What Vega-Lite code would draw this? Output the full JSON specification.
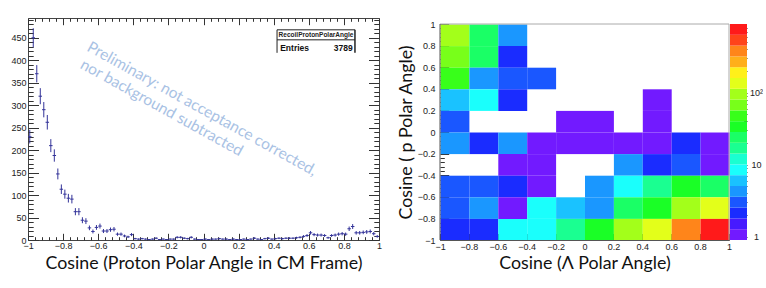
{
  "$schema": "https://vega.github.io/schema/vega-lite/v6.json",
  "padding": {"left": 10, "top": 17, "right": 0, "bottom": 0},
  "background": "white",
  "config": {
    "axis": {"labelFont": "Liberation Sans", "labelFontSize": 9, "labelColor": "#222", "tickColor": "#333", "tickWidth": 1, "grid": false, "minExtent": 0, "maxExtent": 200, "labelOverlap": false, "labelFlush": false, "titleFont": "Lato", "titleFontSize": 17.8, "titleFontWeight": "normal", "titleColor": "#111"}
  },
  "spacing": 14,
  "hconcat": [
    {
      "width": 351, "height": 222,
      "view": {"stroke": "#444", "strokeWidth": 1},
      "data": {"values": [
        {"x":-0.99,"n":230,"e":15.17},{"x":-0.97,"n":450,"e":21.21},{"x":-0.95,"n":370,"e":19.24},{"x":-0.93,"n":320,"e":17.89},{"x":-0.91,"n":290,"e":17.03},{"x":-0.89,"n":262,"e":16.19},{"x":-0.87,"n":210,"e":14.49},{"x":-0.85,"n":188,"e":13.71},{"x":-0.83,"n":147,"e":12.12},{"x":-0.81,"n":113,"e":10.63},
        {"x":-0.79,"n":102,"e":10.1},{"x":-0.77,"n":93,"e":9.64},{"x":-0.75,"n":91,"e":9.54},{"x":-0.73,"n":63,"e":7.94},{"x":-0.71,"n":63,"e":7.94},{"x":-0.69,"n":44,"e":6.63},{"x":-0.67,"n":42,"e":6.48},{"x":-0.65,"n":27,"e":5.2},{"x":-0.63,"n":19,"e":4.36},{"x":-0.61,"n":28,"e":5.29},
        {"x":-0.59,"n":31,"e":5.57},{"x":-0.57,"n":20,"e":4.47},{"x":-0.55,"n":20,"e":4.47},{"x":-0.53,"n":23,"e":4.8},{"x":-0.51,"n":24,"e":4.9},{"x":-0.49,"n":13,"e":3.61},{"x":-0.47,"n":13,"e":3.61},{"x":-0.45,"n":9,"e":3},{"x":-0.43,"n":7,"e":2.65},{"x":-0.41,"n":12,"e":3.46},
        {"x":-0.39,"n":3,"e":1.73},{"x":-0.37,"n":2,"e":1.41},{"x":-0.35,"n":3,"e":1.73},{"x":-0.33,"n":2,"e":1.41},{"x":-0.31,"n":1,"e":1},{"x":-0.29,"n":2,"e":1.41},{"x":-0.27,"n":4,"e":2},{"x":-0.25,"n":1,"e":1},{"x":-0.23,"n":2,"e":1.41},{"x":-0.21,"n":1,"e":1},
        {"x":-0.19,"n":2,"e":1.41},{"x":-0.17,"n":2,"e":1.41},{"x":-0.15,"n":6,"e":2.45},{"x":-0.13,"n":6,"e":2.45},{"x":-0.11,"n":4,"e":2},{"x":-0.09,"n":3,"e":1.73},{"x":-0.07,"n":6,"e":2.45},{"x":-0.05,"n":2,"e":1.41},{"x":-0.03,"n":1,"e":1},{"x":-0.01,"n":1,"e":1},
        {"x":0.01,"n":2,"e":1.41},{"x":0.03,"n":1,"e":1},{"x":0.05,"n":2,"e":1.41},{"x":0.07,"n":2,"e":1.41},{"x":0.09,"n":3,"e":1.73},{"x":0.11,"n":2,"e":1.41},{"x":0.13,"n":2,"e":1.41},{"x":0.15,"n":1,"e":1},{"x":0.17,"n":2,"e":1.41},{"x":0.19,"n":1,"e":1},
        {"x":0.21,"n":1,"e":1},{"x":0.23,"n":2,"e":1.41},{"x":0.25,"n":1,"e":1},{"x":0.27,"n":2,"e":1.41},{"x":0.29,"n":4,"e":2},{"x":0.31,"n":2,"e":1.41},{"x":0.33,"n":1,"e":1},{"x":0.35,"n":3,"e":1.73},{"x":0.37,"n":4,"e":2},{"x":0.39,"n":2,"e":1.41},
        {"x":0.41,"n":3,"e":1.73},{"x":0.43,"n":4,"e":2},{"x":0.45,"n":3,"e":1.73},{"x":0.47,"n":4,"e":2},{"x":0.49,"n":4,"e":2},{"x":0.51,"n":4,"e":2},{"x":0.53,"n":5,"e":2.24},{"x":0.55,"n":6,"e":2.45},{"x":0.57,"n":8,"e":2.83},{"x":0.59,"n":10,"e":3.16},
        {"x":0.61,"n":16,"e":4},{"x":0.63,"n":12,"e":3.46},{"x":0.65,"n":11,"e":3.32},{"x":0.67,"n":11,"e":3.32},{"x":0.69,"n":10,"e":3.16},{"x":0.71,"n":5,"e":2.24},{"x":0.73,"n":10,"e":3.16},{"x":0.75,"n":11,"e":3.32},{"x":0.77,"n":13,"e":3.61},{"x":0.79,"n":14,"e":3.74},
        {"x":0.81,"n":13,"e":3.61},{"x":0.83,"n":25,"e":5},{"x":0.85,"n":30,"e":5.48},{"x":0.87,"n":16,"e":4},{"x":0.89,"n":16,"e":4},{"x":0.91,"n":17,"e":4.12},{"x":0.93,"n":18,"e":4.24},{"x":0.95,"n":19,"e":4.36},{"x":0.97,"n":14,"e":3.74},{"x":0.99,"n":8,"e":2.83}
      ]},
      "layer": [
        {
          "data": {"values": [{}]},
          "mark": {"type": "point", "opacity": 0},
          "encoding": {
            "x": {"datum": 0, "type": "quantitative", "scale": {"domain": [-1, 1], "nice": false, "zero": false},
              "axis": {"orient": "bottom", "values": [-1,-0.8,-0.6,-0.4,-0.2,0,0.2,0.4,0.6,0.8,1], "format": "~g", "ticks": false, "domain": false, "labelPadding": 1, "title": "Cosine (Proton Polar Angle in CM Frame)", "titlePadding": 4.5}},
            "y": {"datum": 0, "type": "quantitative", "scale": {"domain": [0, 494], "nice": false, "zero": false},
              "axis": {"orient": "left", "values": [0,50,100,150,200,250,300,350,400,450], "ticks": false, "domain": false, "labelPadding": 2, "title": null}}
          }
        },
        {
          "data": {"values": [{}]},
          "mark": {"type": "point", "opacity": 0},
          "encoding": {
            "x": {"datum": 0, "type": "quantitative", "scale": {"domain": [-1, 1], "nice": false, "zero": false},
              "axis": {"orient": "bottom", "values": [-1,-0.8,-0.6,-0.4,-0.2,0,0.2,0.4,0.6,0.8,1], "labels": false, "tickSize": -6.7, "domain": false, "title": null}},
            "y": {"datum": 0, "type": "quantitative", "scale": {"domain": [0, 494], "nice": false, "zero": false},
              "axis": {"orient": "left", "values": [0,50,100,150,200,250,300,350,400,450], "labels": false, "tickSize": -10.5, "domain": false, "title": null}}
          }
        },
        {
          "data": {"values": [{}]},
          "mark": {"type": "point", "opacity": 0},
          "encoding": {
            "x": {"datum": 0, "type": "quantitative", "scale": {"domain": [-1, 1], "nice": false, "zero": false},
              "axis": {"orient": "bottom", "values": [-0.96,-0.92,-0.88,-0.84,-0.76,-0.72,-0.68,-0.64,-0.56,-0.52,-0.48,-0.44,-0.36,-0.32,-0.28,-0.24,-0.16,-0.12,-0.08,-0.04,0.04,0.08,0.12,0.16,0.24,0.28,0.32,0.36,0.44,0.48,0.52,0.56,0.64,0.68,0.72,0.76,0.84,0.88,0.92,0.96], "labels": false, "tickSize": -3.3, "domain": false, "title": null}},
            "y": {"datum": 0, "type": "quantitative", "scale": {"domain": [0, 494], "nice": false, "zero": false},
              "axis": {"orient": "left", "values": [10,20,30,40,60,70,80,90,110,120,130,140,160,170,180,190,210,220,230,240,260,270,280,290,310,320,330,340,360,370,380,390,410,420,430,440,460,470,480,490], "labels": false, "tickSize": -5.2, "domain": false, "title": null}}
          }
        },
        {
          "data": {"values": [{}]},
          "mark": {"type": "point", "opacity": 0},
          "encoding": {
            "x": {"datum": 0, "type": "quantitative", "scale": {"domain": [-1, 1], "nice": false, "zero": false},
              "axis": {"orient": "top", "values": [-1,-0.8,-0.6,-0.4,-0.2,0,0.2,0.4,0.6,0.8,1], "labels": false, "tickSize": -6.7, "domain": false, "title": null}},
            "y": {"datum": 0, "type": "quantitative", "scale": {"domain": [0, 494], "nice": false, "zero": false},
              "axis": {"orient": "right", "values": [0,50,100,150,200,250,300,350,400,450], "labels": false, "tickSize": -10.5, "domain": false, "title": null}}
          }
        },
        {
          "data": {"values": [{}]},
          "mark": {"type": "point", "opacity": 0},
          "encoding": {
            "x": {"datum": 0, "type": "quantitative", "scale": {"domain": [-1, 1], "nice": false, "zero": false},
              "axis": {"orient": "top", "values": [-0.96,-0.92,-0.88,-0.84,-0.76,-0.72,-0.68,-0.64,-0.56,-0.52,-0.48,-0.44,-0.36,-0.32,-0.28,-0.24,-0.16,-0.12,-0.08,-0.04,0.04,0.08,0.12,0.16,0.24,0.28,0.32,0.36,0.44,0.48,0.52,0.56,0.64,0.68,0.72,0.76,0.84,0.88,0.92,0.96], "labels": false, "tickSize": -3.3, "domain": false, "title": null}},
            "y": {"datum": 0, "type": "quantitative", "scale": {"domain": [0, 494], "nice": false, "zero": false},
              "axis": {"orient": "right", "values": [10,20,30,40,60,70,80,90,110,120,130,140,160,170,180,190,210,220,230,240,260,270,280,290,310,320,330,340,360,370,380,390,410,420,430,440,460,470,480,490], "labels": false, "tickSize": -5.2, "domain": false, "title": null}}
          }
        },
        {
          "mark": {"type": "errorbar", "color": "#333399", "thickness": 1},
          "encoding": {
            "x": {"field": "x", "type": "quantitative", "scale": {"domain": [-1, 1], "nice": false, "zero": false}, "axis": null},
            "y": {"field": "n", "type": "quantitative", "scale": {"domain": [0, 494], "nice": false, "zero": false}, "axis": null},
            "yError": {"field": "e"}
          }
        },
        {
          "mark": {"type": "tick", "orient": "horizontal", "color": "#333399", "size": 3.5, "thickness": 1, "opacity": 1},
          "encoding": {
            "x": {"field": "x", "type": "quantitative", "scale": {"domain": [-1, 1], "nice": false, "zero": false}, "axis": null},
            "y": {"field": "n", "type": "quantitative", "scale": {"domain": [0, 494], "nice": false, "zero": false}, "axis": null}
          }
        },
        {
          "data": {"values": [{}]},
          "mark": {"type": "text", "text": "Preliminary: not acceptance corrected,", "angle": 29, "font": "Lato", "fontSize": 15.5, "color": "#a9c2e4", "align": "center", "baseline": "middle"},
          "encoding": {
            "x": {"datum": -0.0085, "type": "quantitative", "axis": null},
            "y": {"datum": 292, "type": "quantitative", "axis": null}
          }
        },
        {
          "data": {"values": [{}]},
          "mark": {"type": "text", "text": "nor background subtracted", "angle": 29, "font": "Lato", "fontSize": 15.5, "color": "#a9c2e4", "align": "center", "baseline": "middle"},
          "encoding": {
            "x": {"datum": -0.238, "type": "quantitative", "axis": null},
            "y": {"datum": 294.5, "type": "quantitative", "axis": null}
          }
        },
        {
          "data": {"values": [{}]},
          "mark": {"type": "rect", "fill": "white", "stroke": null},
          "encoding": {
            "x": {"datum": 0.419, "type": "quantitative", "axis": null}, "x2": {"datum": 0.863},
            "y": {"datum": 416.5, "type": "quantitative", "axis": null}, "y2": {"datum": 467.7}
          }
        },
        {
          "data": {"values": [{}]},
          "mark": {"type": "rule", "color": "#222", "strokeWidth": 1},
          "encoding": {
            "x": {"datum": 0.419, "type": "quantitative", "axis": null}, "x2": {"datum": 0.863},
            "y": {"datum": 467.7, "type": "quantitative", "axis": null}
          }
        },
        {
          "data": {"values": [{}]},
          "mark": {"type": "rule", "color": "#222", "strokeWidth": 1},
          "encoding": {
            "x": {"datum": 0.419, "type": "quantitative", "axis": null}, "x2": {"datum": 0.863},
            "y": {"datum": 445.4, "type": "quantitative", "axis": null}
          }
        },
        {
          "data": {"values": [{}]},
          "mark": {"type": "rule", "color": "#222", "strokeWidth": 1},
          "encoding": {
            "x": {"datum": 0.419, "type": "quantitative", "axis": null},
            "y": {"datum": 416.5, "type": "quantitative", "axis": null}, "y2": {"datum": 467.7}
          }
        },
        {
          "data": {"values": [{}]},
          "mark": {"type": "rule", "color": "#222", "strokeWidth": 1.5},
          "encoding": {
            "x": {"datum": 0.863, "type": "quantitative", "axis": null},
            "y": {"datum": 416.5, "type": "quantitative", "axis": null}, "y2": {"datum": 467.7}
          }
        },
        {
          "data": {"values": [{}]},
          "mark": {"type": "text", "text": "RecoilProtonPolarAngle", "font": "Liberation Sans", "fontSize": 6.5, "fontWeight": "bold", "color": "#222", "align": "center", "baseline": "middle"},
          "encoding": {
            "x": {"datum": 0.641, "type": "quantitative", "axis": null},
            "y": {"datum": 456.6, "type": "quantitative", "axis": null}
          }
        },
        {
          "data": {"values": [{}]},
          "mark": {"type": "text", "text": "Entries", "font": "Liberation Sans", "fontSize": 8.5, "fontWeight": "bold", "color": "#111", "align": "left", "baseline": "middle"},
          "encoding": {
            "x": {"datum": 0.437, "type": "quantitative", "axis": null},
            "y": {"datum": 428.3, "type": "quantitative", "axis": null}
          }
        },
        {
          "data": {"values": [{}]},
          "mark": {"type": "text", "text": "3789", "font": "Liberation Sans", "fontSize": 8.5, "fontWeight": "bold", "color": "#111", "align": "right", "baseline": "middle"},
          "encoding": {
            "x": {"datum": 0.85, "type": "quantitative", "axis": null},
            "y": {"datum": 428.3, "type": "quantitative", "axis": null}
          }
        }
      ],
      "resolve": {"axis": {"x": "independent", "y": "independent"}}
    },
    {
      "hconcat": [
        {
          "width": 289, "height": 222,
          "view": {"stroke": null},
          "layer": [
            {
              "data": {"values": [
                {"x":-0.9,"y":0.9,"v":95},{"x":-0.7,"y":0.9,"v":24},{"x":-0.5,"y":0.9,"v":4},
                {"x":-0.9,"y":0.7,"v":67},{"x":-0.7,"y":0.7,"v":22},{"x":-0.5,"y":0.7,"v":2},
                {"x":-0.9,"y":0.5,"v":48},{"x":-0.7,"y":0.5,"v":4},{"x":-0.5,"y":0.5,"v":3},{"x":-0.3,"y":0.5,"v":3},
                {"x":-0.9,"y":0.3,"v":6},{"x":-0.7,"y":0.3,"v":8},{"x":-0.5,"y":0.3,"v":2},{"x":0.5,"y":0.3,"v":1},
                {"x":-0.9,"y":0.1,"v":3},{"x":-0.1,"y":0.1,"v":1},{"x":0.1,"y":0.1,"v":1},{"x":0.5,"y":0.1,"v":1},
                {"x":-0.9,"y":-0.1,"v":4},{"x":-0.7,"y":-0.1,"v":2},{"x":-0.5,"y":-0.1,"v":4},{"x":-0.3,"y":-0.1,"v":1},{"x":-0.1,"y":-0.1,"v":1},{"x":0.1,"y":-0.1,"v":1},{"x":0.3,"y":-0.1,"v":1},{"x":0.5,"y":-0.1,"v":1},{"x":0.7,"y":-0.1,"v":2},{"x":0.9,"y":-0.1,"v":1},
                {"x":-0.5,"y":-0.3,"v":1},{"x":-0.3,"y":-0.3,"v":1},{"x":0.3,"y":-0.3,"v":4},{"x":0.5,"y":-0.3,"v":2},{"x":0.7,"y":-0.3,"v":3},{"x":0.9,"y":-0.3,"v":1},
                {"x":-0.9,"y":-0.5,"v":3},{"x":-0.7,"y":-0.5,"v":3},{"x":-0.5,"y":-0.5,"v":2},{"x":-0.3,"y":-0.5,"v":1},{"x":0.1,"y":-0.5,"v":4},{"x":0.3,"y":-0.5,"v":8},{"x":0.5,"y":-0.5,"v":17},{"x":0.7,"y":-0.5,"v":34},{"x":0.9,"y":-0.5,"v":24},
                {"x":-0.9,"y":-0.7,"v":3},{"x":-0.7,"y":-0.7,"v":4},{"x":-0.5,"y":-0.7,"v":1},{"x":-0.3,"y":-0.7,"v":8},{"x":-0.1,"y":-0.7,"v":6},{"x":0.1,"y":-0.7,"v":4},{"x":0.3,"y":-0.7,"v":22},{"x":0.5,"y":-0.7,"v":34},{"x":0.7,"y":-0.7,"v":95},{"x":0.9,"y":-0.7,"v":135},
                {"x":-0.9,"y":-0.9,"v":2},{"x":-0.7,"y":-0.9,"v":2},{"x":-0.5,"y":-0.9,"v":8},{"x":-0.3,"y":-0.9,"v":8},{"x":-0.1,"y":-0.9,"v":17},{"x":0.1,"y":-0.9,"v":34},{"x":0.3,"y":-0.9,"v":95},{"x":0.5,"y":-0.9,"v":135},{"x":0.7,"y":-0.9,"v":380},{"x":0.9,"y":-0.9,"v":750}
              ]},
              "mark": {"type": "rect", "binSpacing": 0},
              "encoding": {
                "x": {"field": "x", "type": "quantitative", "bin": {"extent": [-1, 1], "step": 0.2}, "scale": {"domain": [-1, 1], "nice": false, "zero": false},
                  "axis": {"orient": "bottom", "values": [-1,-0.8,-0.6,-0.4,-0.2,0,0.2,0.4,0.6,0.8,1], "format": "~g", "ticks": false, "domain": true, "domainColor": "#555", "labelPadding": 2, "title": "Cosine (Λ Polar Angle)", "titlePadding": 3}},
                "y": {"field": "y", "type": "quantitative", "bin": {"extent": [-1, 1], "step": 0.2}, "scale": {"domain": [-1, 1], "range": [222, 6], "nice": false, "zero": false},
                  "axis": {"orient": "left", "values": [-1,-0.8,-0.6,-0.4,-0.2,0,0.2,0.4,0.6,0.8,1], "format": "~g", "ticks": false, "domain": false, "labelPadding": 5, "title": "Cosine ( p Polar Angle)", "titlePadding": 2}},
                "color": {"aggregate": "sum", "field": "v", "type": "quantitative", "legend": null,
                  "scale": {"type": "threshold", "domain": [1.2713,1.7957,2.5365,3.583,5.0611,7.149,10.098,14.264,20.148,28.46,40.202,56.786,80.213,113.3,160.05,226.07,319.33,451.07,637.15],
                    "range": ["#721aff","#471aff","#1a2cff","#1a57ff","#1a97ff","#1ac2ff","#1afffc","#1affd1","#1aff91","#1aff66","#1aff26","#38ff1a","#78ff1a","#a3ff1a","#e3ff1a","#fff01a","#ffaf1a","#ff851a","#ff441a","#ff1a1a"]}}
              }
            },
            {
              "data": {"values": [{}]},
              "mark": {"type": "rule", "color": "#aaa", "strokeWidth": 1},
              "encoding": {
                "x": {"datum": -1, "type": "quantitative", "scale": {"domain": [-1, 1], "nice": false, "zero": false}, "axis": null}, "x2": {"datum": 1},
                "y": {"datum": 1, "type": "quantitative", "scale": {"domain": [-1, 1], "range": [222, 6], "nice": false, "zero": false}, "axis": null}
              }
            },
            {
              "data": {"values": [{}]},
              "mark": {"type": "rule", "color": "#aaa", "strokeWidth": 1},
              "encoding": {
                "x": {"datum": 1, "type": "quantitative", "scale": {"domain": [-1, 1], "nice": false, "zero": false}, "axis": null},
                "y": {"datum": -1, "type": "quantitative", "scale": {"domain": [-1, 1], "range": [222, 6], "nice": false, "zero": false}, "axis": null}, "y2": {"datum": 1}
              }
            },
            {
              "data": {"values": [{}]},
              "mark": {"type": "rule", "color": "#555", "strokeWidth": 1},
              "encoding": {
                "x": {"datum": -1, "type": "quantitative", "scale": {"domain": [-1, 1], "nice": false, "zero": false}, "axis": null},
                "y": {"datum": -1, "type": "quantitative", "scale": {"domain": [-1, 1], "range": [222, 6], "nice": false, "zero": false}, "axis": null}, "y2": {"datum": 1}
              }
            },
            {
              "data": {"values": [{}]},
              "mark": {"type": "point", "opacity": 0},
              "encoding": {
                "x": {"datum": 0, "type": "quantitative", "scale": {"domain": [-1, 1], "nice": false, "zero": false},
                  "axis": {"orient": "bottom", "values": [-1,-0.8,-0.6,-0.4,-0.2,0,0.2,0.4,0.6,0.8,1], "labels": false, "tickSize": -6.5, "domain": false, "title": null}},
                "y": {"datum": 0, "type": "quantitative", "scale": {"domain": [-1, 1], "range": [222, 6], "nice": false, "zero": false},
                  "axis": {"orient": "left", "values": [-1,-0.8,-0.6,-0.4,-0.2,0,0.2,0.4,0.6,0.8,1], "labels": false, "tickSize": -8.7, "domain": false, "title": null}}
              }
            },
            {
              "data": {"values": [{}]},
              "mark": {"type": "point", "opacity": 0},
              "encoding": {
                "x": {"datum": 0, "type": "quantitative", "scale": {"domain": [-1, 1], "nice": false, "zero": false},
                  "axis": {"orient": "bottom", "values": [-0.96,-0.92,-0.88,-0.84,-0.76,-0.72,-0.68,-0.64,-0.56,-0.52,-0.48,-0.44,-0.36,-0.32,-0.28,-0.24,-0.16,-0.12,-0.08,-0.04,0.04,0.08,0.12,0.16,0.24,0.28,0.32,0.36,0.44,0.48,0.52,0.56,0.64,0.68,0.72,0.76,0.84,0.88,0.92,0.96], "labels": false, "tickSize": -3.2, "domain": false, "title": null}},
                "y": {"datum": 0, "type": "quantitative", "scale": {"domain": [-1, 1], "range": [222, 6], "nice": false, "zero": false},
                  "axis": {"orient": "left", "values": [-0.96,-0.92,-0.88,-0.84,-0.76,-0.72,-0.68,-0.64,-0.56,-0.52,-0.48,-0.44,-0.36,-0.32,-0.28,-0.24,-0.16,-0.12,-0.08,-0.04,0.04,0.08,0.12,0.16,0.24,0.28,0.32,0.36,0.44,0.48,0.52,0.56,0.64,0.68,0.72,0.76,0.84,0.88,0.92,0.96], "labels": false, "tickSize": -4.3, "domain": false, "title": null}}
              }
            }
          ],
          "resolve": {"axis": {"x": "independent", "y": "independent"}}
        },
        {
          "width": 17, "height": 222,
          "view": {"stroke": null},
          "layer": [
            {
              "data": {"values": [
                {"lo":0.9,"hi":1.2713},{"lo":1.2713,"hi":1.7957},{"lo":1.7957,"hi":2.5365},{"lo":2.5365,"hi":3.583},{"lo":3.583,"hi":5.0611},
                {"lo":5.0611,"hi":7.149},{"lo":7.149,"hi":10.098},{"lo":10.098,"hi":14.264},{"lo":14.264,"hi":20.148},{"lo":20.148,"hi":28.46},
                {"lo":28.46,"hi":40.202},{"lo":40.202,"hi":56.786},{"lo":56.786,"hi":80.213},{"lo":80.213,"hi":113.3},{"lo":113.3,"hi":160.05},
                {"lo":160.05,"hi":226.07},{"lo":226.07,"hi":319.33},{"lo":319.33,"hi":451.07},{"lo":451.07,"hi":637.15},{"lo":637.15,"hi":900}
              ]},
              "mark": {"type": "rect"},
              "encoding": {
                "x": {"datum": 0, "type": "quantitative", "scale": {"domain": [0, 1], "nice": false, "zero": false}, "axis": null},
                "x2": {"datum": 1},
                "y": {"field": "lo", "type": "quantitative", "scale": {"type": "log", "domain": [0.9, 900], "range": [222, 6], "nice": false},
                  "axis": {"orient": "right", "values": [1, 10, 100], "labelExpr": "datum.value >= 100 ? '10²' : (datum.value >= 10 ? '10' : '1')", "ticks": false, "domain": false, "labelAlign": "center", "labelPadding": 9, "title": null}},
                "y2": {"field": "hi"},
                "color": {"field": "lo", "type": "quantitative", "legend": null,
                  "scale": {"type": "threshold", "domain": [1.2713,1.7957,2.5365,3.583,5.0611,7.149,10.098,14.264,20.148,28.46,40.202,56.786,80.213,113.3,160.05,226.07,319.33,451.07,637.15],
                    "range": ["#721aff","#471aff","#1a2cff","#1a57ff","#1a97ff","#1ac2ff","#1afffc","#1affd1","#1aff91","#1aff66","#1aff26","#38ff1a","#78ff1a","#a3ff1a","#e3ff1a","#fff01a","#ffaf1a","#ff851a","#ff441a","#ff1a1a"]}}
              }
            },
            {
              "data": {"values": [{}]},
              "mark": {"type": "point", "opacity": 0},
              "encoding": {
                "x": {"datum": 0.5, "type": "quantitative", "scale": {"domain": [0, 1], "nice": false, "zero": false}, "axis": null},
                "y": {"datum": 1, "type": "quantitative", "scale": {"type": "log", "domain": [0.9, 900], "range": [222, 6], "nice": false},
                  "axis": {"orient": "right", "values": [1, 10, 100], "labels": false, "tickSize": -6.7, "domain": false, "title": null}}
              }
            },
            {
              "data": {"values": [{}]},
              "mark": {"type": "point", "opacity": 0},
              "encoding": {
                "x": {"datum": 0.5, "type": "quantitative", "scale": {"domain": [0, 1], "nice": false, "zero": false}, "axis": null},
                "y": {"datum": 1, "type": "quantitative", "scale": {"type": "log", "domain": [0.9, 900], "range": [222, 6], "nice": false},
                  "axis": {"orient": "right", "values": [2,3,4,5,6,7,8,9,20,30,40,50,60,70,80,90,200,300,400,500,600,700,800], "labels": false, "tickSize": -3.3, "domain": false, "title": null}}
              }
            }
          ],
          "resolve": {"axis": {"x": "independent", "y": "independent"}}
        }
      ],
      "spacing": 1,
      "bounds": "flush"
    }
  ]
}
